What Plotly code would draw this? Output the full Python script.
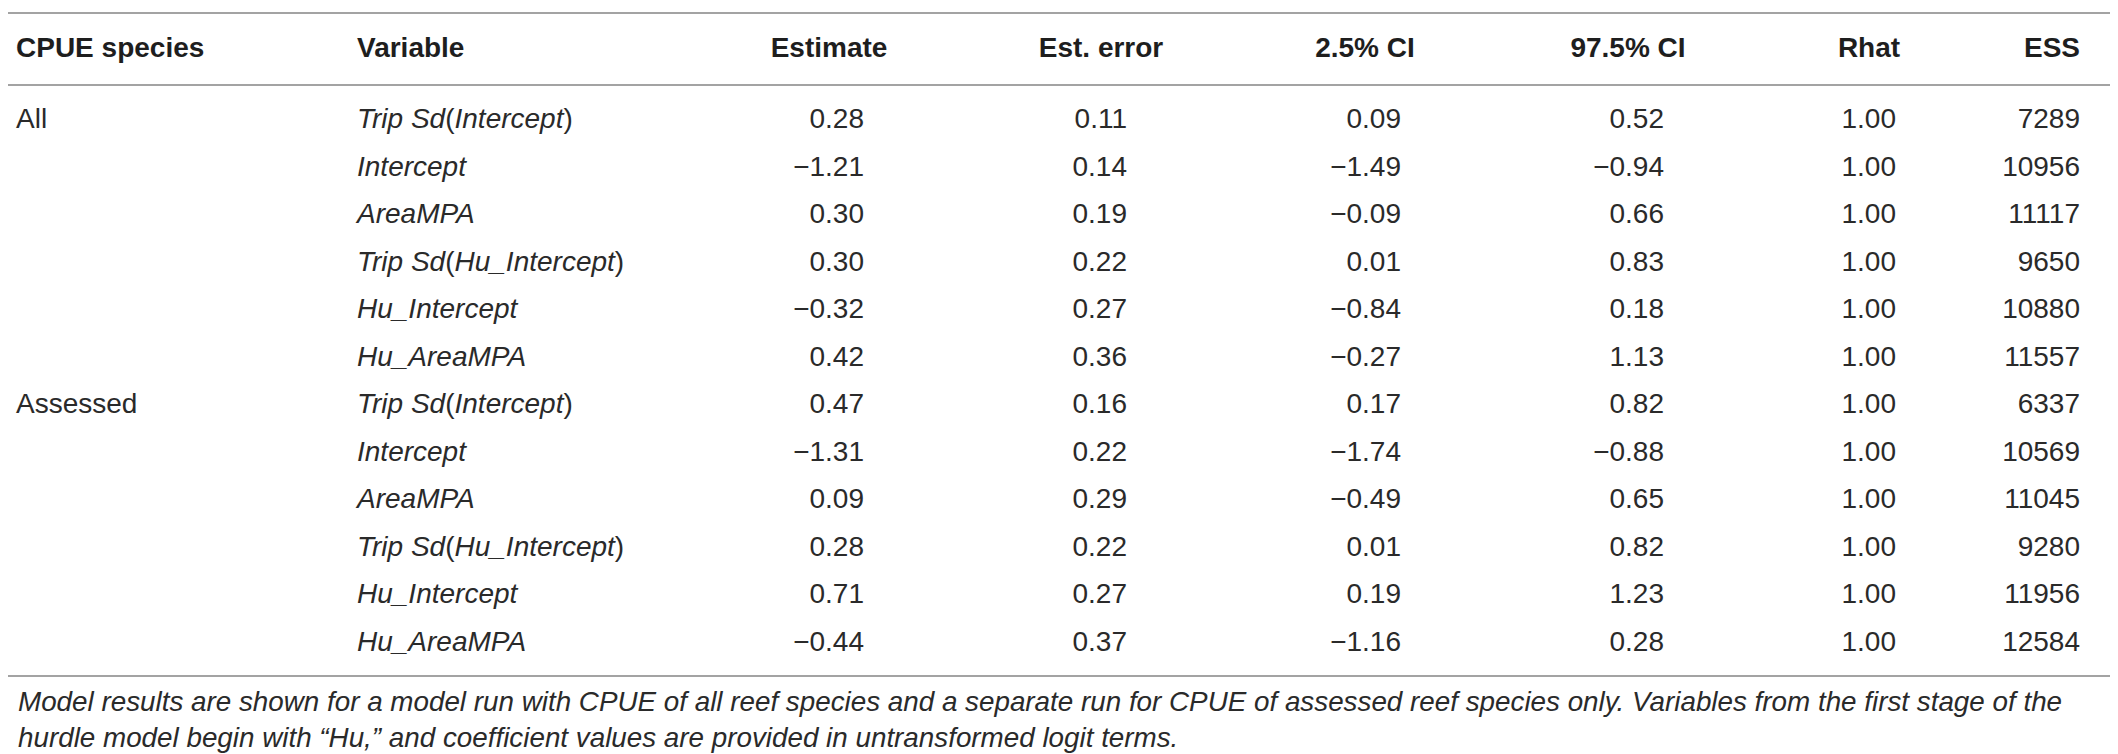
import plotly.graph_objects as go

# table contents
species = ["All", "", "", "", "", "", "Assessed", "", "", "", "", ""]
variables = ["Trip Sd(Intercept)", "Intercept", "AreaMPA", "Trip Sd(Hu_Intercept)",
             "Hu_Intercept", "Hu_AreaMPA"] * 2
estimate = [0.28, -1.21, 0.30, 0.30, -0.32, 0.42, 0.47, -1.31, 0.09, 0.28, 0.71, -0.44]
est_error = [0.11, 0.14, 0.19, 0.22, 0.27, 0.36, 0.16, 0.22, 0.29, 0.22, 0.27, 0.37]
ci_low = [0.09, -1.49, -0.09, 0.01, -0.84, -0.27, 0.17, -1.74, -0.49, 0.01, 0.19, -1.16]
ci_high = [0.52, -0.94, 0.66, 0.83, 0.18, 1.13, 0.82, -0.88, 0.65, 0.82, 1.23, 0.28]
rhat = [1.00, 1.00, 1.00, 1.00, 1.00, 1.00, 1.00, 1.00, 1.00, 1.00, 1.00, 1.00]
ess = [7289, 10956, 11117, 9650, 10880, 11557, 6337, 10569, 11045, 9280, 11956, 12584]
headers = ["CPUE species", "Variable", "Estimate", "Est. error", "2.5% CI", "97.5% CI", "Rhat", "ESS"]
caption = ("Model results are shown for a model run with CPUE of all reef species and a separate run "
           "for CPUE of assessed reef species only. Variables from the first stage of the<br>"
           "hurdle model begin with \u201cHu,\u201d and coefficient values are provided in "
           "untransformed logit terms.")

# page geometry (pixels)
W, H = 2118, 754
FIRST_ROW = 113      # centre of first body row
ROW_H = 47.5
TEXT = "#2a2a2a"
RULE = "#a3a3a3"
FONT = "Liberation Sans, Arial, sans-serif"


def row_of(ypx):
    return (ypx - FIRST_ROW) / ROW_H


def fmt(v):
    return f"{v:.2f}".replace("-", "\u2212")


def fmt_var(name):
    # italic names, upright brackets
    if "(" in name:
        a, b = name.rstrip(")").split("(")
        return f"<i>{a}</i>(<i>{b}</i>)"
    return f"<i>{name}</i>"


rows = list(range(len(variables)))
header_row = row_of(42)

# (header text, header x, header anchor, cell texts, cell x, cell anchor)
columns = [
    (headers[0], 8, "middle right", species, 8, "middle right"),
    (headers[1], 349, "middle right", [fmt_var(v) for v in variables], 349, "middle right"),
    (headers[2], 821, "middle center", [fmt(v) for v in estimate], 856, "middle left"),
    (headers[3], 1093, "middle center", [fmt(v) for v in est_error], 1119, "middle left"),
    (headers[4], 1357, "middle center", [fmt(v) for v in ci_low], 1393, "middle left"),
    (headers[5], 1620, "middle center", [fmt(v) for v in ci_high], 1656, "middle left"),
    (headers[6], 1861, "middle center", [fmt(v) for v in rhat], 1888, "middle left"),
    (headers[7], 2072, "middle left", [str(v) for v in ess], 2072, "middle left"),
]

fig = go.Figure()
for head, hx, hpos, cells, cx, cpos in columns:
    fig.add_trace(go.Scatter(
        x=[hx], y=[header_row], mode="text", text=[head], textposition=hpos,
        textfont=dict(family=FONT, size=28, color="#1e1e1e", weight="bold"),
        hoverinfo="skip", showlegend=False, cliponaxis=False))
    fig.add_trace(go.Scatter(
        x=[cx] * len(rows), y=rows, mode="text", text=cells, textposition=cpos,
        textfont=dict(family=FONT, size=28, color=TEXT),
        hoverinfo="skip", showlegend=False, cliponaxis=False))

# horizontal rules
for ypx in (5, 77, 668):
    fig.add_shape(type="line", xref="x", yref="y", x0=0, x1=2112,
                  y0=row_of(ypx), y1=row_of(ypx), line=dict(color=RULE, width=2))

fig.add_annotation(
    x=8, y=row_of(711), xref="x", yref="y", xanchor="left", yanchor="middle",
    text=f"<i>{caption}</i>", showarrow=False, align="left",
    font=dict(family=FONT, size=27.8, color=TEXT))

fig.update_layout(
    width=W, height=H,
    margin=dict(l=0, r=0, t=0, b=0),
    paper_bgcolor="white", plot_bgcolor="white",
    xaxis=dict(range=[0, W], visible=False, fixedrange=True),
    yaxis=dict(range=[row_of(H), row_of(0)], visible=False, fixedrange=True),
)

fig.write_html("out.html")
